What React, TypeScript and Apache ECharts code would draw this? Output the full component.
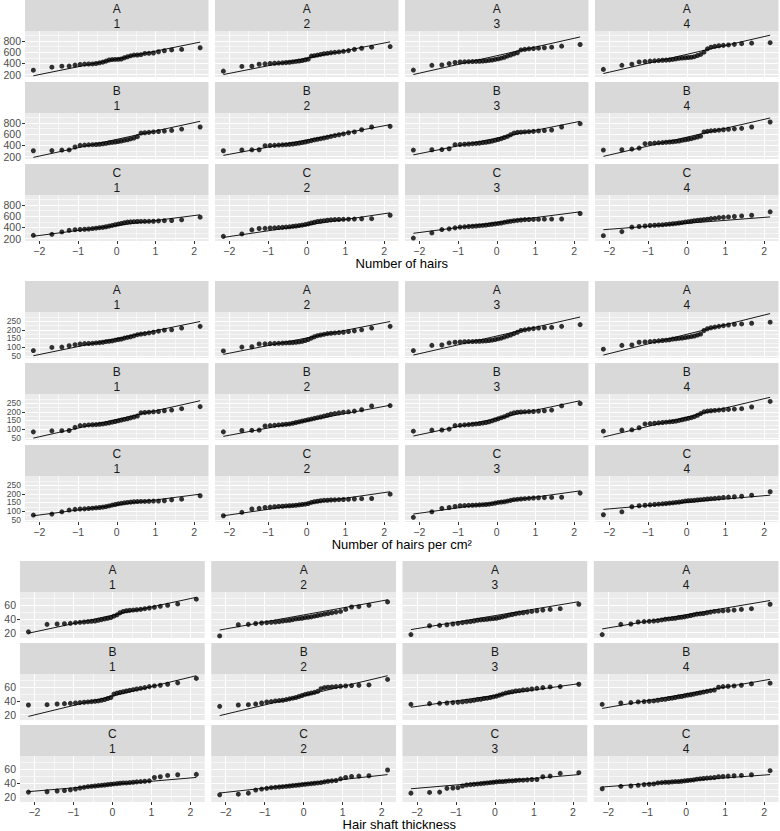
import React, { useEffect, useRef } from "react";
import * as echarts from "echarts";

// ---------- facets / titles ----------
const facetGroups = ["A", "B", "C"];
const facetTimes = ["1", "2", "3", "4"];
const measureTitles = ["Number of hairs", "Number of hairs per cm²", "Hair shaft thickness"];

// theoretical normal quantiles (x positions of the 32 points in every panel)
const theoreticalQuantiles = [
  -2.154, -1.676, -1.418, -1.23, -1.078, -0.947, -0.831, -0.725, -0.626, -0.534, -0.445, -0.36, -0.278, -0.197,
  -0.118, -0.039, 0.039, 0.118, 0.197, 0.278, 0.36, 0.445, 0.534, 0.626, 0.725, 0.831, 0.947, 1.078, 1.23, 1.418,
  1.676, 2.154,
];

// ---------- tick labels ----------
const xTickValues = [-2, -1, 0, 1, 2];
const xMinorValues = [-1.5, -0.5, 0.5, 1.5];
const hairsTicks = [200, 400, 600, 800];
const hairsMinor = [300, 500, 700, 900];
const densityTicks = [50, 100, 150, 200, 250];
const densityMinor = [75, 125, 175, 225, 275];
const thicknessTicks = [20, 40, 60];
const thicknessMinor = [30, 50, 70];

// ---------- Number of hairs (sample quantiles) ----------
const hairsA1 = [278, 332, 350, 352, 368, 380, 386, 388, 390, 398, 410, 422, 440, 460, 468, 470, 472, 478, 500, 518, 535, 548, 550, 555, 578, 580, 585, 608, 625, 640, 650, 680];
const hairsA2 = [261, 345, 350, 384, 392, 398, 402, 405, 410, 415, 420, 428, 435, 442, 450, 462, 475, 530, 537, 548, 560, 572, 580, 590, 598, 605, 615, 628, 650, 670, 690, 700];
const hairsA3 = [280, 365, 371, 396, 415, 425, 428, 430, 432, 435, 438, 440, 445, 452, 460, 470, 480, 495, 510, 530, 550, 570, 590, 640, 650, 660, 665, 672, 680, 690, 708, 738];
const hairsA4 = [292, 365, 384, 426, 432, 440, 445, 450, 455, 458, 462, 470, 480, 490, 495, 500, 505, 510, 520, 540, 560, 600, 660, 690, 705, 715, 722, 730, 740, 752, 762, 770];
const hairsB1 = [304, 306, 316, 318, 370, 400, 405, 410, 412, 415, 420, 428, 435, 445, 452, 460, 468, 478, 490, 500, 515, 530, 555, 620, 625, 632, 640, 648, 655, 668, 692, 728];
const hairsB2 = [304, 318, 320, 322, 394, 398, 400, 405, 410, 412, 418, 425, 432, 440, 450, 460, 472, 485, 498, 510, 520, 532, 545, 560, 575, 590, 605, 625, 640, 680, 728, 740];
const hairsB3 = [316, 322, 325, 340, 412, 415, 420, 425, 430, 435, 440, 448, 455, 465, 475, 490, 505, 520, 540, 560, 590, 620, 632, 636, 640, 645, 650, 658, 665, 675, 728, 788];
const hairsB4 = [316, 322, 334, 352, 430, 435, 440, 445, 450, 455, 460, 465, 470, 478, 490, 500, 510, 520, 535, 550, 565, 640, 650, 660, 665, 672, 680, 688, 695, 704, 728, 818];
const hairsC1 = [258, 276, 318, 346, 358, 362, 366, 371, 378, 385, 394, 400, 411, 422, 435, 447, 459, 470, 482, 494, 498, 502, 505, 506, 507, 508, 510, 515, 520, 523, 535, 582];
const hairsC2 = [239, 282, 355, 379, 383, 388, 392, 396, 400, 405, 410, 418, 425, 432, 440, 450, 462, 478, 492, 505, 512, 520, 528, 534, 538, 541, 544, 546, 548, 552, 555, 617];
const hairsC3 = [208, 300, 361, 373, 391, 404, 410, 415, 420, 425, 430, 435, 440, 448, 455, 462, 470, 478, 490, 500, 510, 518, 525, 532, 538, 540, 542, 544, 546, 548, 550, 648];
const hairsC4 = [251, 324, 404, 416, 425, 434, 438, 442, 446, 452, 458, 464, 470, 478, 486, 495, 502, 510, 520, 526, 532, 538, 545, 556, 562, 574, 580, 587, 595, 605, 617, 678];
// reference line ends (y at first / last theoretical quantile), A1..A4, B1..B4, C1..C4
const hairsLineEnds = [
  [178, 780], [200, 785], [200, 873], [218, 904],
  [185, 830], [221, 770], [230, 830], [203, 890],
  [241, 625], [220, 660], [294, 678], [358, 587],
];

// ---------- Number of hairs per cm² ----------
const densityA1 = [80, 98, 100, 108, 114, 118, 120, 121, 122, 124, 126, 128, 132, 134, 136, 140, 144, 146, 152, 156, 160, 165, 172, 175, 178, 182, 186, 192, 198, 200, 210, 220];
const densityA2 = [78, 100, 102, 118, 119, 120, 121, 122, 123, 124, 125, 126, 128, 130, 133, 138, 144, 152, 160, 166, 170, 174, 178, 180, 182, 184, 186, 190, 194, 200, 210, 220];
const densityA3 = [80, 110, 112, 124, 128, 130, 131, 132, 132, 133, 134, 135, 136, 138, 140, 144, 148, 152, 158, 164, 170, 178, 186, 196, 200, 204, 207, 210, 212, 214, 220, 230];
const densityA4 = [88, 110, 112, 128, 130, 132, 134, 136, 138, 140, 142, 146, 148, 150, 152, 155, 158, 161, 164, 170, 176, 196, 206, 212, 216, 220, 224, 228, 232, 234, 238, 244];
const densityB1 = [84, 90, 91, 92, 110, 120, 122, 124, 125, 126, 128, 130, 133, 136, 140, 144, 148, 152, 156, 160, 165, 170, 176, 194, 196, 198, 200, 202, 206, 210, 218, 230];
const densityB2 = [84, 92, 93, 94, 118, 120, 122, 124, 126, 128, 130, 134, 138, 142, 146, 150, 154, 158, 162, 166, 170, 175, 180, 186, 190, 194, 198, 200, 204, 212, 234, 236];
const densityB3 = [88, 94, 95, 100, 120, 122, 124, 126, 128, 130, 132, 135, 138, 142, 148, 154, 160, 166, 172, 180, 188, 194, 198, 199, 200, 201, 202, 204, 206, 210, 234, 248];
const densityB4 = [88, 94, 96, 108, 130, 132, 134, 136, 138, 140, 142, 144, 146, 150, 154, 158, 162, 166, 172, 180, 190, 200, 204, 206, 208, 210, 212, 214, 216, 218, 228, 260];
const densityC1 = [77, 83, 96, 106, 110, 112, 113, 115, 117, 119, 121, 123, 126, 130, 135, 138, 142, 145, 148, 150, 152, 154, 155, 156, 156, 157, 158, 158, 160, 165, 169, 189];
const densityC2 = [73, 93, 112, 116, 121, 123, 125, 127, 128, 130, 131, 132, 134, 136, 138, 140, 144, 150, 154, 157, 160, 162, 163, 164, 165, 166, 167, 168, 170, 172, 173, 198];
const densityC3 = [64, 96, 116, 121, 127, 131, 132, 133, 134, 135, 136, 137, 138, 140, 143, 146, 150, 152, 154, 158, 162, 166, 168, 170, 172, 174, 176, 177, 178, 179, 180, 204];
const densityC4 = [79, 96, 125, 131, 134, 136, 138, 140, 142, 144, 146, 148, 150, 152, 155, 158, 160, 161, 162, 164, 166, 168, 170, 172, 174, 176, 179, 181, 183, 186, 192, 212];
const densityLineEnds = [
  [50, 248], [58, 248], [54, 274], [54, 294],
  [48, 264], [58, 238], [60, 264], [54, 284],
  [73, 198], [73, 212], [83, 217], [110, 192],
];

// ---------- Hair shaft thickness ----------
const thicknessA1 = [21, 32, 32.5, 33, 33.5, 34.5, 35, 35.5, 36, 36.5, 37, 38, 39, 40, 41, 42, 44, 46, 49, 51, 52, 52.5, 53, 53.5, 54, 55, 56, 57, 58.5, 60, 62, 69];
const thicknessA2 = [15, 31.5, 32, 33.3, 34, 34.5, 35, 35.5, 36, 37, 37.5, 38, 39, 40, 40.5, 41, 42, 42.5, 43, 44, 45, 46, 47, 48, 49, 50, 51, 54, 57.5, 58, 60, 65];
const thicknessA3 = [17, 30, 30.5, 31.5, 32.5, 33.5, 34.5, 35.5, 36, 37, 38, 38.5, 39, 39.5, 40, 40.5, 41, 42, 43, 44, 45.5, 46.5, 47.5, 48.5, 49, 50, 51, 52, 53, 54, 55, 61.5];
const thicknessA4 = [17, 32, 32.5, 35.5, 36, 36.5, 37, 37.5, 38.5, 39.5, 40, 40.5, 41, 42, 42.5, 43, 44, 45, 46, 47, 47.5, 48, 49, 50, 51, 51.5, 52, 52.5, 53, 54, 55, 61.5];
const thicknessB1 = [34, 34.5, 35.5, 36, 36.5, 37, 37.5, 38, 38.5, 39, 39.5, 40, 41, 42, 43.5, 45, 50, 51.5, 52.5, 53.5, 54.5, 55.5, 56.5, 57.5, 58.5, 59.5, 61, 62, 63, 64.5, 66.5, 73];
const thicknessB2 = [32, 34, 34.5, 35.5, 37, 38.5, 39, 40, 40.5, 41, 42, 43, 44, 45, 46.5, 48, 49.5, 50.5, 51.5, 52.5, 54, 58, 59.5, 60, 60.5, 61, 61.5, 62, 62.5, 63, 63.5, 71.5];
const thicknessB3 = [35, 36, 36.5, 37, 37.5, 38, 38.5, 39.5, 40, 41, 42, 42.5, 43.5, 44, 45, 46, 47, 48.5, 50, 51.5, 52.5, 53.5, 54.5, 55, 56, 56.5, 57.5, 58.5, 59.5, 60.5, 61, 64.5];
const thicknessB4 = [35, 37, 37.5, 38.5, 39, 39.5, 40, 41, 42, 42.5, 43.5, 44, 45, 46, 46.5, 47.5, 48.5, 49, 50, 51, 52, 53, 54, 55, 56, 60, 61, 61.5, 62, 63, 65, 66];
const thicknessC1 = [26.5, 27, 28, 28.8, 29.8, 31, 32.5, 33.5, 34.5, 35, 35.5, 36, 36.5, 37, 37.5, 38, 38.5, 39, 39.5, 40, 40, 40.5, 41, 41.5, 42, 42.5, 43, 48, 49, 51, 52, 52.5];
const thicknessC2 = [22.5, 23.5, 25, 29.5, 31, 32, 33, 33.5, 34, 34.5, 35, 35.5, 36, 36.5, 37, 37.5, 38, 38.5, 39, 39.5, 40, 40.5, 41.5, 42.5, 43, 43.5, 46, 48, 49.5, 50, 50.5, 59];
const thicknessC3 = [25, 26, 26.5, 32, 32.5, 33, 35.5, 37, 37.5, 38, 38.5, 39, 39.5, 40, 40.5, 41, 41.5, 42, 42, 42.5, 43, 43, 43.5, 44, 44, 44.5, 45, 45, 49, 50, 54, 55];
const thicknessC4 = [31.5, 35, 35.5, 36.5, 37.5, 38, 38.5, 40, 40.5, 41, 41, 41.5, 42, 42, 42.5, 43, 43.5, 44, 44.5, 45.5, 46, 46.5, 47, 47.5, 48, 49, 49.5, 50, 50.5, 51, 52, 58];
const thicknessLineEnds = [
  [19, 71.7], [23.7, 68], [24.3, 65.3], [25.3, 67],
  [17.3, 77], [18.4, 77], [30.7, 65.3], [29, 71.7],
  [27.2, 48], [25.2, 52.2], [31.4, 52.2], [34, 52.2],
];

// ---------- layout (styling only) ----------
const FONT = "'Liberation Sans', Arial, sans-serif";
const BLOCK_TOP = [0, 281, 561];
const PANEL_LEFT = [25, 25, 20];
const PLOT_RIGHT = 778.5;
const COL_GAP = 6.5;
const STRIP_H = 31;
const PANEL_H = 46;
const ROW_PITCH = 82;
const X_RANGE = [-2.37, 2.37];

const measures = [
  {
    title: measureTitles[0],
    panels: [hairsA1, hairsA2, hairsA3, hairsA4, hairsB1, hairsB2, hairsB3, hairsB4, hairsC1, hairsC2, hairsC3, hairsC4],
    lines: hairsLineEnds,
    ticks: hairsTicks,
    minor: hairsMinor,
    range: [156, 979],
    labelSize: 10.5,
    labelLine: 10,
  },
  {
    title: measureTitles[1],
    panels: [densityA1, densityA2, densityA3, densityA4, densityB1, densityB2, densityB3, densityB4, densityC1, densityC2, densityC3, densityC4],
    lines: densityLineEnds,
    ticks: densityTicks,
    minor: densityMinor,
    range: [37, 303],
    labelSize: 8.5,
    labelLine: 8,
  },
  {
    title: measureTitles[2],
    panels: [thicknessA1, thicknessA2, thicknessA3, thicknessA4, thicknessB1, thicknessB2, thicknessB3, thicknessB4, thicknessC1, thicknessC2, thicknessC3, thicknessC4],
    lines: thicknessLineEnds,
    ticks: thicknessTicks,
    minor: thicknessMinor,
    range: [12, 79.5],
    labelSize: 10.5,
    labelLine: 10,
  },
];

function buildOption() {
  const grids: any[] = [];
  const xAxes: any[] = [];
  const yAxes: any[] = [];
  const extraYAxes: any[] = [];
  const series: any[] = [];
  const elements: any[] = [];
  const fmtX = (v: number) => (v < 0 ? "\u2212" + Math.abs(v) : String(v));

  const yAxisDef = (idx: number, m: any, show: boolean, values: number[]) => ({
    gridIndex: idx,
    type: "value",
    position: "left",
    min: m.range[0],
    max: m.range[1],
    axisLine: { show: false },
    splitLine: { show: false },
    axisTick: { show, customValues: values, length: 3, lineStyle: { color: "#333333", width: 1 } },
    axisLabel: {
      show,
      customValues: values,
      interval: 0,
      hideOverlap: false,
      showMinLabel: true,
      showMaxLabel: true,
      margin: 4,
      fontSize: m.labelSize,
      lineHeight: m.labelLine,
      color: "#4D4D4D",
      fontFamily: FONT,
    },
  });

  measures.forEach((m, b) => {
    const left0 = PANEL_LEFT[b];
    const W = (PLOT_RIGHT - left0 - 3 * COL_GAP) / 4;
    const evenTicks = m.ticks.filter((_, i) => i % 2 === 0);
    const oddTicks = m.ticks.filter((_, i) => i % 2 === 1);
    facetGroups.forEach((g, r) => {
      facetTimes.forEach((t, c) => {
        const idx = grids.length;
        const p = r * 4 + c;
        const left = left0 + c * (W + COL_GAP);
        const stripTop = BLOCK_TOP[b] + r * ROW_PITCH;
        const top = stripTop + STRIP_H;
        grids.push({
          left,
          top,
          width: W,
          height: PANEL_H,
          show: true,
          backgroundColor: "#EBEBEB",
          borderWidth: 0,
          containLabel: false,
          outerBoundsMode: "none",
        });
        const bottomRow = r === 2;
        const firstCol = c === 0;
        xAxes.push({
          gridIndex: idx,
          type: "value",
          min: X_RANGE[0],
          max: X_RANGE[1],
          axisLine: { show: false },
          splitLine: { show: false },
          axisTick: { show: bottomRow, customValues: xTickValues, length: 3, lineStyle: { color: "#333333", width: 1 } },
          axisLabel: {
            show: bottomRow,
            customValues: xTickValues,
            formatter: fmtX,
            margin: 4,
            fontSize: 10.5,
            color: "#4D4D4D",
            fontFamily: FONT,
            hideOverlap: false,
            showMinLabel: true,
            showMaxLabel: true,
          },
        });
        // two left axes sharing the same scale: alternate tick labels, so none is dropped
        yAxes.push(yAxisDef(idx, m, firstCol, evenTicks));
        if (firstCol) extraYAxes.push(yAxisDef(idx, m, true, oddTicks));

        const gridLines = [
          ...m.ticks.map((v) => ({ yAxis: v, lineStyle: { color: "#FFFFFF", width: 1.1, type: "solid" } })),
          ...m.minor.map((v) => ({ yAxis: v, lineStyle: { color: "#FFFFFF", width: 0.55, type: "solid" } })),
          ...xTickValues.map((v) => ({ xAxis: v, lineStyle: { color: "#FFFFFF", width: 1.1, type: "solid" } })),
          ...xMinorValues.map((v) => ({ xAxis: v, lineStyle: { color: "#FFFFFF", width: 0.55, type: "solid" } })),
        ];
        const vals = m.panels[p];
        const ends = m.lines[p];
        const q = theoreticalQuantiles;
        series.push({
          type: "scatter",
          xAxisIndex: idx,
          yAxisIndex: idx,
          data: vals.map((v, i) => [q[i], v]),
          symbol: "circle",
          symbolSize: 5,
          itemStyle: { color: "#000000" },
          silent: true,
          z: 10,
          markLine: {
            silent: true,
            z: 1,
            symbol: ["none", "none"],
            label: { show: false },
            emphasis: { disabled: true },
            animation: false,
            data: gridLines,
          },
        });
        series.push({
          type: "line",
          xAxisIndex: idx,
          yAxisIndex: idx,
          data: [
            [q[0], ends[0]],
            [q[q.length - 1], ends[1]],
          ],
          symbol: "none",
          lineStyle: { color: "#000000", width: 0.9 },
          silent: true,
          z: 11,
        });
        elements.push({
          type: "rect",
          shape: { x: left, y: stripTop, width: W, height: STRIP_H },
          style: { fill: "#D9D9D9" },
          silent: true,
        });
        elements.push({
          type: "text",
          x: left + W / 2,
          y: stripTop + STRIP_H / 2 + 0.5,
          style: {
            text: g + "\n" + t,
            fill: "#1A1A1A",
            fontSize: 12,
            fontFamily: FONT,
            lineHeight: 15,
            align: "center",
            verticalAlign: "middle",
          },
          silent: true,
        });
      });
    });
    elements.push({
      type: "text",
      x: (left0 + PLOT_RIGHT) / 2,
      y: BLOCK_TOP[b] + 263,
      style: {
        text: m.title,
        fill: "#000000",
        fontSize: 13,
        fontFamily: FONT,
        align: "center",
        verticalAlign: "middle",
      },
      silent: true,
    });
  });

  return {
    animation: false,
    backgroundColor: "#FFFFFF",
    grid: grids,
    xAxis: xAxes,
    yAxis: [...yAxes, ...extraYAxes],
    series,
    graphic: { elements },
  };
}

export default function App() {
  const ref = useRef<HTMLDivElement>(null);
  useEffect(() => {
    if (!ref.current) return;
    const chart = echarts.init(ref.current, undefined, { renderer: "svg" });
    chart.setOption(buildOption());
    return () => chart.dispose();
  }, []);
  return (
    <div
      ref={ref}
      style={{ position: "fixed", left: 0, top: 0, width: 780, height: 831, background: "#FFFFFF" }}
    />
  );
}
